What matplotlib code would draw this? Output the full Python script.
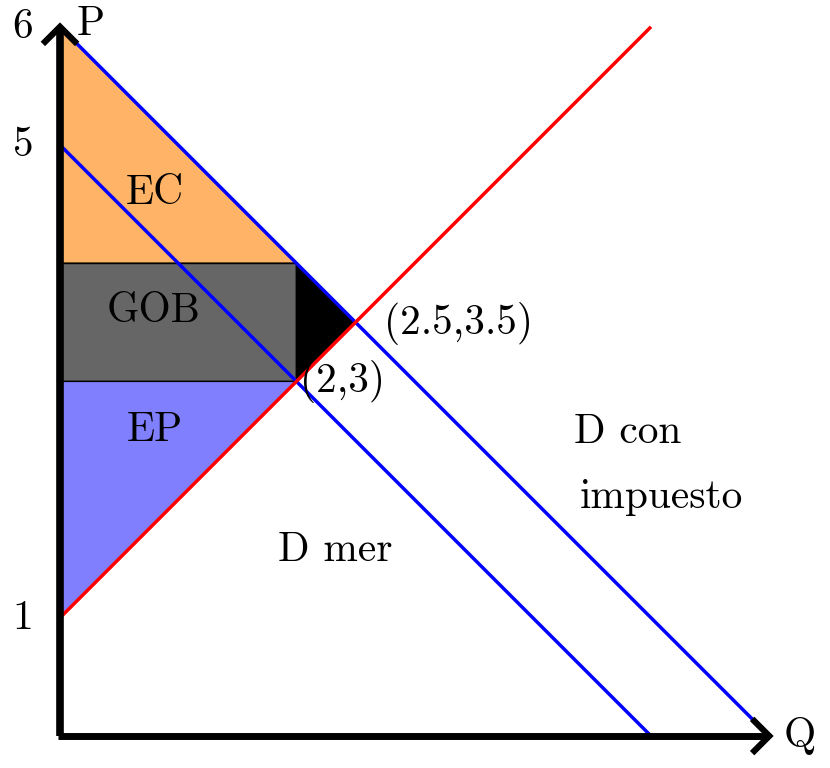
import matplotlib
matplotlib.use("Agg")
import matplotlib.pyplot as plt

# ---- data ----
demand_tax = [(0, 6), (6, 0)]      # upper blue line
demand_mkt = [(0, 5), (5, 0)]      # lower blue line
supply = [(0, 1), (5, 6)]          # red line
ec_poly = [(0, 6), (2, 4), (0, 4)]
gob_poly = [(0, 3), (2, 3), (2, 4), (0, 4)]
dwl_poly = [(2, 4), (2.5, 3.5), (2, 3)]
ep_poly = [(0, 1), (2, 3), (0, 3)]
y_ticks = [6, 5, 1]
y_tick_labels = ["6", "5", "1"]
area_labels = [("EC", 0.80, 4.59), ("GOB", 0.79, 3.59), ("EP", 0.80, 2.59)]
point_labels = [("(2.5,3.5)", 3.37, 3.49), ("(2,3)", 2.39, 3.0)]
curve_labels = [("D mer", 2.33, 1.57), ("D con", 4.80, 2.57), ("impuesto", 5.09, 2.02)]
axis_labels = [("P", 0.26, 6.02), ("Q", 6.26, 0.0)]

FONT = ["cmr10", "DejaVu Serif"]
FS = 29.8

fig = plt.figure(figsize=(8.3, 7.68), dpi=100)
ax = fig.add_axes([0, 0, 1, 1])
ax.set_xlim(-0.5076, 6.514)
ax.set_ylim(-0.2707, 6.2267)
ax.axis("off")

def fill(poly, color):
    xs = [p[0] for p in poly]
    ys = [p[1] for p in poly]
    ax.fill(xs, ys, facecolor=color, edgecolor="black", lw=1.0, zorder=1)

fill(ec_poly, "#FFB366")
fill(gob_poly, "#666666")
fill(dwl_poly, "#000000")
fill(ep_poly, "#8080FF")

for line, col in [(demand_tax, "#0000FF"), (demand_mkt, "#0000FF"), (supply, "#FF0000")]:
    ax.plot([p[0] for p in line], [p[1] for p in line], color=col, lw=2.5,
            solid_capstyle="butt", zorder=2)

# axes with open arrow heads
ax.plot([0, 0], [0, 6], color="black", lw=5.5, solid_capstyle="butt", zorder=3)
ax.plot([-0.02, 6], [0, 0], color="black", lw=5.0, solid_capstyle="butt", zorder=3)
h = 0.145
ax.plot([-h, 0, h], [6 - h, 6, 6 - h], color="black", lw=4.5,
        solid_joinstyle="miter", solid_capstyle="butt", zorder=4)
ax.plot([6 - h, 6, 6 - h], [h, 0, -h], color="black", lw=4.5,
        solid_joinstyle="miter", solid_capstyle="butt", zorder=4)

for v, lab in zip(y_ticks, y_tick_labels):
    ax.text(-0.313, v, lab, family=FONT, fontsize=FS, ha="center", va="center", zorder=5)

for lab, x, y in area_labels + point_labels + curve_labels + axis_labels:
    ax.text(x, y, lab, family=FONT, fontsize=FS, ha="center", va="center", zorder=5)

fig.savefig("out.png", dpi=100)
